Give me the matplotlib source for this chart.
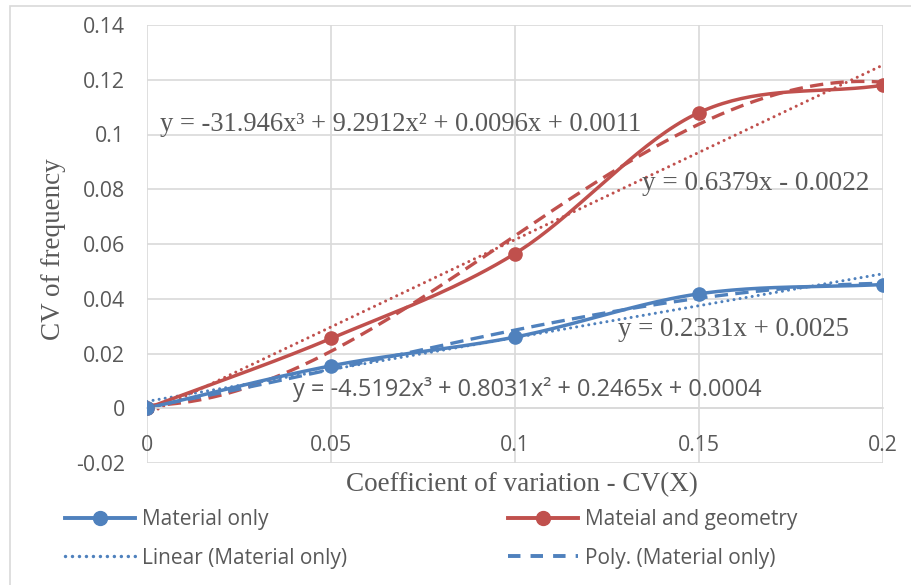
import numpy as np
import matplotlib.pyplot as plt
from matplotlib.lines import Line2D
from matplotlib.patches import Rectangle

cv_x = [0, 0.05, 0.1, 0.15, 0.2]
material_only = [0, 0.0155, 0.026, 0.0418, 0.0452]
material_geometry = [0, 0.0255, 0.0565, 0.108, 0.118]

# trendline coefficients as printed on the chart (highest power first)
lin_mat = [0.2331, 0.0025]
poly_mat = [-4.5192, 0.8031, 0.2465, 0.0004]
lin_geo = [0.6379, -0.0022]
poly_geo = [-31.946, 9.2912, 0.0096, 0.0011]

blue = '#4F81BD'
red = '#C0504D'
grid_c = '#D9D9D9'
txt_c = '#595959'
dots = (0, (0.01, 2.0))
dashes = (0, (4, 2.2))


def smooth(x, y, n=40):
    # catmull-rom curve through the points, like Excel's smoothed line
    x = np.asarray(x, float)
    y = np.asarray(y, float)
    px = np.concatenate([[2 * x[0] - x[1]], x, [2 * x[-1] - x[-2]]])
    py = np.concatenate([[2 * y[0] - y[1]], y, [2 * y[-1] - y[-2]]])
    xs, ys = [], []
    t = np.linspace(0, 1, n)
    for i in range(1, len(px) - 2):
        for p, out in ((px, xs), (py, ys)):
            p0, p1, p2, p3 = p[i - 1], p[i], p[i + 1], p[i + 2]
            out.extend(0.5 * (2 * p1 + (-p0 + p2) * t
                              + (2 * p0 - 5 * p1 + 4 * p2 - p3) * t ** 2
                              + (-p0 + 3 * p1 - 3 * p2 + p3) * t ** 3))
    return xs, ys


fig = plt.figure(figsize=(9.11, 5.85), dpi=100)
fig.patches.append(Rectangle((10 / 911, -0.02), 1.0, 1 - 6 / 585 + 0.02,
                             transform=fig.transFigure, fill=False,
                             edgecolor=grid_c, lw=1.2))
ax = fig.add_axes([147 / 911, 1 - 463 / 585, (883 - 147) / 911, (463 - 25) / 585])

xt = np.linspace(0, 0.2, 200)
ax.plot(xt, np.polyval(lin_geo, xt), color=red, lw=2.2, ls=dots, dash_capstyle='round')
ax.plot(xt, np.polyval(poly_geo, xt), color=red, lw=2.4, ls=dashes)
ax.plot(xt, np.polyval(lin_mat, xt), color=blue, lw=2.2, ls=dots, dash_capstyle='round')
ax.plot(xt, np.polyval(poly_mat, xt), color=blue, lw=2.4, ls=dashes)

sx, sy = smooth(cv_x, material_geometry)
ax.plot(sx, sy, color=red, lw=2.5)
ax.plot(cv_x, material_geometry, 'o', color=red, ms=9.5, zorder=5)
sx, sy = smooth(cv_x, material_only)
ax.plot(sx, sy, color=blue, lw=2.5)
ax.plot(cv_x, material_only, 'o', color=blue, ms=9.5, zorder=5)

ax.set_xlim(0, 0.2)
ax.set_ylim(-0.02, 0.14)
ax.set_xticks([0, 0.05, 0.1, 0.15, 0.2])
ax.set_xticklabels(['0', '0.05', '0.1', '0.15', '0.2'])
ax.set_yticks(np.arange(-0.02, 0.141, 0.02))
ax.set_yticklabels(['-0.02', '0', '0.02', '0.04', '0.06', '0.08', '0.1', '0.12', '0.14'])
ax.grid(True, color=grid_c, lw=1.2)
ax.set_axisbelow(True)
for s in ['top', 'right', 'left']:
    ax.spines[s].set_visible(False)
ax.spines['bottom'].set_position(('data', 0))
ax.spines['bottom'].set_color(grid_c)
ax.spines['bottom'].set_linewidth(1.2)
ax.tick_params(length=0, labelsize=15.3, labelcolor=txt_c)
ax.tick_params(axis='x', pad=19)
ax.tick_params(axis='y', pad=16)
for lab in ax.get_xticklabels() + ax.get_yticklabels():
    lab.set_family('Open Sans')

fig.text(53 / 911, 1 - 249 / 585, 'CV of frequency', family='Liberation Serif', fontsize=19.5,
         color=txt_c, ha='center', va='center', rotation=90)
fig.text(522 / 911, 1 - 485 / 585, 'Coefficient of variation - CV(X)', family='Liberation Serif',
         fontsize=19.5, color=txt_c, ha='center', va='center')

ax.text(0.00353, 0.1013, 'y = -31.946x³ + 9.2912x² + 0.0096x + 0.0011', family='Liberation Serif',
        fontsize=19.1, color=txt_c, va='baseline')
ax.text(0.1345, 0.0798, 'y = 0.6379x - 0.0022', family='Liberation Serif', fontsize=19.5,
        color=txt_c, va='baseline')
ax.text(0.128, 0.0264, 'y = 0.2331x + 0.0025', family='Liberation Serif', fontsize=19.3,
        color=txt_c, va='baseline')
ax.text(0.0397, 0.0045, 'y = -4.5192x³ + 0.8031x² + 0.2465x + 0.0004', family='Open Sans',
        fontsize=16.9, color=txt_c, va='baseline')

h_mat = Line2D([], [], color=blue, lw=2.8, marker='o', ms=10)
h_lin = Line2D([], [], color=blue, lw=2.5, ls=(0, (0.01, 2.0)), dash_capstyle='round')
h_geo = Line2D([], [], color=red, lw=2.8, marker='o', ms=10)
h_poly = Line2D([], [], color=blue, lw=2.8, ls=(0, (3.2, 2.6)))
leg_kw = dict(loc='center left', frameon=False, handlelength=3.35, handletextpad=0.33,
              labelspacing=0.82, borderpad=0, borderaxespad=0,
              prop={'family': 'Open Sans', 'size': 15})
leg1 = fig.legend([h_mat, h_lin], ['Material only', 'Linear (Material only)'],
                  bbox_to_anchor=(65 / 911, 1 - 539 / 585), **leg_kw)
leg2 = fig.legend([h_geo, h_poly], ['Mateial and geometry', 'Poly. (Material only)'],
                  bbox_to_anchor=(508 / 911, 1 - 539 / 585), **leg_kw)
for leg in (leg1, leg2):
    for t in leg.get_texts():
        t.set_color(txt_c)

fig.savefig('out.png', dpi=100)
